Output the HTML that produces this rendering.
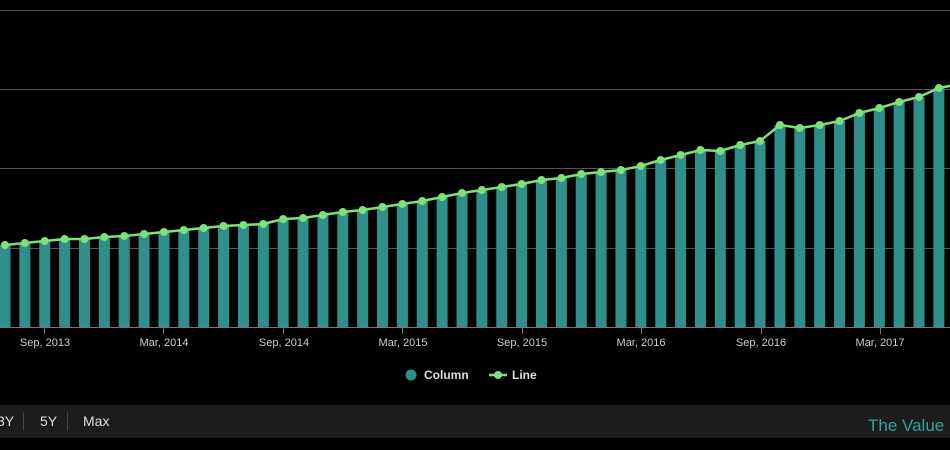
<!DOCTYPE html>
<html><head><style>
body{margin:0;background:#000;width:950px;height:450px;overflow:hidden;font-family:"Liberation Sans",sans-serif}
</style></head><body>
<svg width="950" height="450" style="position:absolute;left:0;top:0">
<g stroke="#555" stroke-width="1">
<line x1="0" y1="10.5" x2="950" y2="10.5"/>
<line x1="0" y1="89.5" x2="950" y2="89.5"/>
<line x1="0" y1="168.5" x2="950" y2="168.5"/>
<line x1="0" y1="248.5" x2="950" y2="248.5"/>
</g>
<g id="bars" fill="#2f8f8a"></g>
<line x1="0" y1="327.5" x2="950" y2="327.5" stroke="#777"/>
<g stroke="#777">
<line x1="44.5" y1="327" x2="44.5" y2="334"/><line x1="163.5" y1="327" x2="163.5" y2="334"/>
<line x1="283.5" y1="327" x2="283.5" y2="334"/><line x1="402.5" y1="327" x2="402.5" y2="334"/>
<line x1="522.5" y1="327" x2="522.5" y2="334"/><line x1="641.5" y1="327" x2="641.5" y2="334"/>
<line x1="761.5" y1="327" x2="761.5" y2="334"/><line x1="880.5" y1="327" x2="880.5" y2="334"/>
</g>
<g fill="#ccc" font-size="11" text-anchor="middle">
<text x="45" y="346">Sep, 2013</text><text x="164" y="346">Mar, 2014</text>
<text x="284" y="346">Sep, 2014</text><text x="403" y="346">Mar, 2015</text>
<text x="522" y="346">Sep, 2015</text><text x="641" y="346">Mar, 2016</text>
<text x="761" y="346">Sep, 2016</text><text x="880" y="346">Mar, 2017</text>
</g>
<polyline id="ln" fill="none" stroke="#7fe07a" stroke-width="2.5"/>
<g id="pts" fill="#7fe07a"></g>
<circle cx="411" cy="375" r="5.5" fill="#2f8f8a"/>
<text x="424" y="379" fill="#ddd" font-size="12" font-weight="bold">Column</text>
<line x1="489" y1="375" x2="507" y2="375" stroke="#7fe07a" stroke-width="2.5"/>
<circle cx="498" cy="375" r="4" fill="#7fe07a"/>
<text x="512" y="379" fill="#ddd" font-size="12" font-weight="bold">Line</text>
<rect x="0" y="405" width="950" height="33" fill="#1c1c1c"/>
<text x="-3" y="426" fill="#ddd" font-size="14">3Y</text>
<line x1="23.5" y1="412" x2="23.5" y2="430" stroke="#444"/>
<text x="40" y="426" fill="#ddd" font-size="14">5Y</text>
<line x1="67.5" y1="412" x2="67.5" y2="430" stroke="#444"/>
<text x="83" y="426" fill="#ddd" font-size="14">Max</text>
<text x="868" y="431" fill="#2ea59c" font-size="17">The Value</text>
</svg>
<script>
var ys=[245,243,241,239,239,237,236,234,232,230,228,226,225,224,219,218,215,212,210,207,204,201,197,193,190,187,184,180,178,174,172,170,166,160,155,150,151,145,141,125,128,125,121,113,108,102,97,88];
var b='',p='',pl=[];
ys.forEach(function(y,i){var x=5+i*19.87;b+='<rect x="'+(x-5.5)+'" y="'+y+'" width="11" height="'+(327-y)+'"/>';p+='<circle cx="'+x+'" cy="'+y+'" r="4"/>';pl.push(x+','+y);});
pl.push('955,85');
document.getElementById('bars').innerHTML=b;
document.getElementById('pts').innerHTML=p;
document.getElementById('ln').setAttribute('points',pl.join(' '));
</script>
</body></html>
